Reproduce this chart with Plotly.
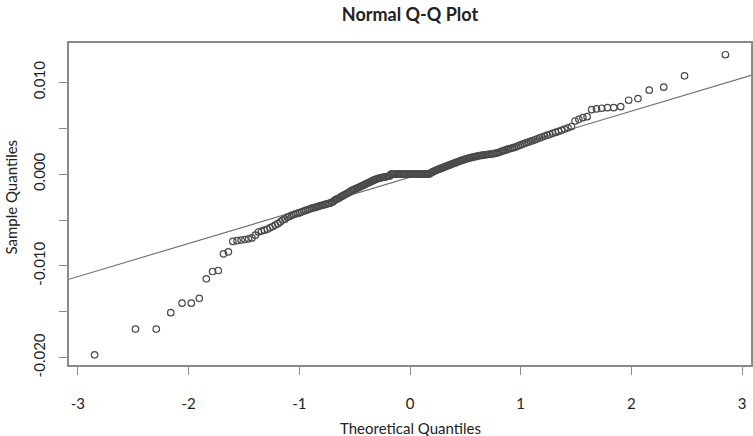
import numpy as np
import plotly.graph_objects as go
from statistics import NormalDist

# Sorted sample values (n = 228)
sample_lower_tail = [-0.01969, -0.01688, -0.01688, -0.01510, -0.01406, -0.01406, -0.01353,
                     -0.01141, -0.01061, -0.01050, -0.00868, -0.00846, -0.00733]
sample_body_low = [-0.00725, -0.00718, -0.00712, -0.00705, -0.00695, -0.00665, -0.00630,
                   -0.00620, -0.00610, -0.00600, -0.00585, -0.00570, -0.00555,
                   -0.00540, -0.00520, -0.00500, -0.00490, -0.00470, -0.00460, -0.00448,
                   -0.00440, -0.00432, -0.00425, -0.00420, -0.00410, -0.00402, -0.00395,
                   -0.00388, -0.00380, -0.00372,
                   -0.00368, -0.00362, -0.00358, -0.00350, -0.00345, -0.00340, -0.00336,
                   -0.00330, -0.00326, -0.00320, -0.00316, -0.00310,
                   -0.00300, -0.00285, -0.00275, -0.00268, -0.00260, -0.00250, -0.00240,
                   -0.00232, -0.00222, -0.00213, -0.00205, -0.00196, -0.00185, -0.00176,
                   -0.00170, -0.00163, -0.00157, -0.00150, -0.00143, -0.00136, -0.00130,
                   -0.00122, -0.00115, -0.00108, -0.00100, -0.00095, -0.00088, -0.00080,
                   -0.00074, -0.00068, -0.00060, -0.00055, -0.00050, -0.00045,
                   -0.00042, -0.00040, -0.00036, -0.00033, -0.00030, -0.00028, -0.00025,
                   -0.00022, -0.00020]
sample_zero_run = [0.0] * 32
sample_body_high = [0.00010, 0.00018, 0.00025, 0.00032, 0.00038, 0.00043,
                    0.00050, 0.00055, 0.00060, 0.00066, 0.00070, 0.00076, 0.00082, 0.00088,
                    0.00093, 0.00098, 0.00104, 0.00110, 0.00115, 0.00120, 0.00126, 0.00132,
                    0.00137, 0.00142, 0.00148, 0.00153,
                    0.00158, 0.00163, 0.00168, 0.00172, 0.00176, 0.00180, 0.00184, 0.00188,
                    0.00191, 0.00195, 0.00198, 0.00201, 0.00204, 0.00206, 0.00208, 0.00212,
                    0.00214, 0.00216, 0.00218, 0.00220, 0.00223, 0.00226,
                    0.00230, 0.00236, 0.00242, 0.00249, 0.00255, 0.00262, 0.00268, 0.00275,
                    0.00280, 0.00286, 0.00292, 0.00299,
                    0.00308, 0.00316, 0.00325, 0.00334, 0.00342, 0.00350, 0.00358, 0.00366,
                    0.00375, 0.00385,
                    0.00395, 0.00405, 0.00415, 0.00425, 0.00435, 0.00445, 0.00455, 0.00466,
                    0.00478, 0.00492, 0.00505, 0.00520]
sample_upper_tail = [0.00580, 0.00598, 0.00616, 0.00627, 0.00703, 0.00711, 0.00719, 0.00725,
                     0.00725, 0.00736, 0.00806, 0.00824, 0.00916, 0.00949, 0.01072, 0.01302]

sample = np.array(sample_lower_tail + sample_body_low + sample_zero_run
                  + sample_body_high + sample_upper_tail)
n = len(sample)

# Theoretical quantiles as qqnorm computes them (ppoints, a = 0.5)
nd = NormalDist()
theoretical = np.array([nd.inv_cdf((i - 0.5) / n) for i in range(1, n + 1)])

# qqline: through the first and third quartiles
q_s = np.percentile(sample, [25, 75])
q_t = np.array([nd.inv_cdf(0.25), nd.inv_cdf(0.75)])
slope = (q_s[1] - q_s[0]) / (q_t[1] - q_t[0])
intercept = q_s[0] - slope * q_t[0]
line_x = np.array([-3.5, 3.5])
line_y = intercept + slope * line_x

x_ticks = [-3, -2, -1, 0, 1, 2, 3]
y_ticks = [-0.020, -0.015, -0.010, -0.005, 0.000, 0.005, 0.010]
y_tick_text = ["-0.020", "", "-0.010", "", "0.000", "", "0.010"]

FONT = "Lato, 'Open Sans', sans-serif"
axis_col = "#8a8a8a"
text_col = "#222222"

fig = go.Figure()
fig.add_trace(go.Scatter(x=line_x, y=line_y, mode="lines",
                         line=dict(color="#6e6e6e", width=1.1), hoverinfo="skip"))
fig.add_trace(go.Scatter(x=theoretical, y=sample, mode="markers",
                         marker=dict(symbol="circle-open", size=6.5, color="#4a4a4a",
                                     line=dict(width=1.2, color="#4a4a4a"))))

fig.update_layout(
    template="none",
    width=753, height=436,
    margin=dict(l=69, r=2, t=43, b=71, autoexpand=False),
    paper_bgcolor="white", plot_bgcolor="white",
    showlegend=False,
    font=dict(family=FONT, color=text_col, size=15),
    title=dict(text="<b>Normal Q-Q Plot</b>", x=0.5445, xanchor="center",
               y=0.967, yanchor="middle", font=dict(size=18, family=FONT, color=text_col)),
    xaxis=dict(range=[-3.08, 3.08], tickvals=x_ticks, ticktext=[str(v) for v in x_ticks],
               automargin=False,
               showgrid=False, zeroline=False, showline=True, mirror=True,
               linecolor=axis_col, linewidth=1.5, ticks="outside", ticklen=8,
               tickcolor=axis_col, tickwidth=1, ticklabelstandoff=16,
               tickfont=dict(size=15, family=FONT, color=text_col)),
    yaxis=dict(range=[-0.0208, 0.0143], tickvals=y_ticks, ticktext=y_tick_text,
               tickangle=-90, automargin=False,
               showgrid=False, zeroline=False, showline=True, mirror=True,
               linecolor=axis_col, linewidth=1.5, ticks="outside", ticklen=8,
               tickcolor=axis_col, tickwidth=1, ticklabelstandoff=8,
               tickfont=dict(size=15, family=FONT, color=text_col)),
    annotations=[
        dict(text="Theoretical Quantiles", xref="paper", yref="paper",
             x=0.5, y=-0.196, xanchor="center", yanchor="middle", showarrow=False,
             font=dict(size=15, family=FONT, color=text_col)),
        dict(text="Sample Quantiles", xref="paper", yref="paper",
             x=-0.085, y=0.52, xanchor="center", yanchor="middle", showarrow=False,
             textangle=-90, font=dict(size=15, family=FONT, color=text_col)),
    ],
)

fig.write_html("out.html",
               config={"displayModeBar": False},
               post_script="document.body.style.margin='0';document.body.style.overflow='hidden';")
